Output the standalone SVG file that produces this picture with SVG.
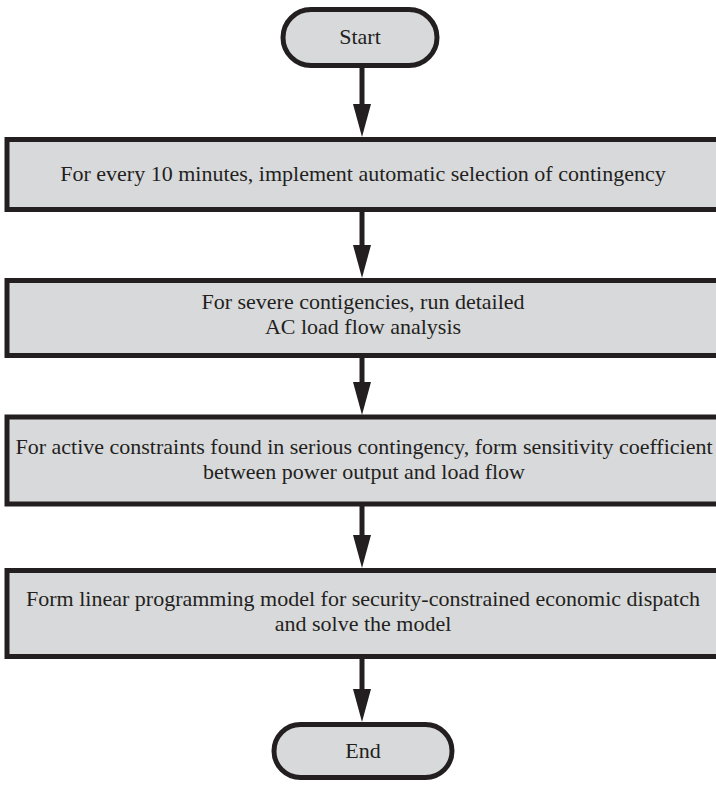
<svg xmlns="http://www.w3.org/2000/svg" width="716" height="785" viewBox="0 0 716 785">
<style>
.node{fill:#d8d9db;stroke:#231f20;stroke-width:5}
.lbl{font-family:"Liberation Serif","Times New Roman",serif;font-size:22px;fill:#231f20;text-anchor:middle}
.edge{stroke:#231f20;stroke-width:5;fill:none}
.head{fill:#231f20}
</style>
<rect width="716" height="785" fill="#ffffff"/>
<g id="start">
<rect class="node" x="283" y="9.5" width="154" height="56" rx="28"/>
<text class="lbl" x="360" y="44">Start</text>
</g>
<g id="step1">
<rect class="node" x="7" y="139.5" width="715" height="70"/>
<text class="lbl" x="363" y="181">For every 10 minutes, implement automatic selection of contingency</text>
</g>
<g id="step2">
<rect class="node" x="7" y="280.5" width="715" height="75"/>
<text class="lbl" x="363" y="309">For severe contigencies, run detailed</text>
<text class="lbl" x="363" y="334">AC load flow analysis</text>
</g>
<g id="step3">
<rect class="node" x="7" y="417" width="715" height="87"/>
<text class="lbl" x="364" y="454">For active constraints found in serious contingency, form sensitivity coefficient</text>
<text class="lbl" x="364" y="479">between power output and load flow</text>
</g>
<g id="step4">
<rect class="node" x="7" y="570.5" width="715" height="86"/>
<text class="lbl" x="363" y="606">Form linear programming model for security-constrained economic dispatch</text>
<text class="lbl" x="363" y="631">and solve the model</text>
</g>
<g id="end">
<rect class="node" x="274" y="724.5" width="178" height="53" rx="26.5"/>
<text class="lbl" x="363" y="758">End</text>
</g>
<g id="connectors">
<line class="edge" x1="362" y1="68" x2="362" y2="106"/>
<polygon class="head" points="353,104 371,104 362,137"/>
<line class="edge" x1="362" y1="212" x2="362" y2="248"/>
<polygon class="head" points="353,245 371,245 362,278"/>
<line class="edge" x1="362" y1="358" x2="362" y2="385"/>
<polygon class="head" points="353,382 371,382 362,415"/>
<line class="edge" x1="362" y1="506" x2="362" y2="538"/>
<polygon class="head" points="353,535 371,535 362,568"/>
<line class="edge" x1="362" y1="659" x2="362" y2="692"/>
<polygon class="head" points="353,689 371,689 362,722"/>
</g>
</svg>
